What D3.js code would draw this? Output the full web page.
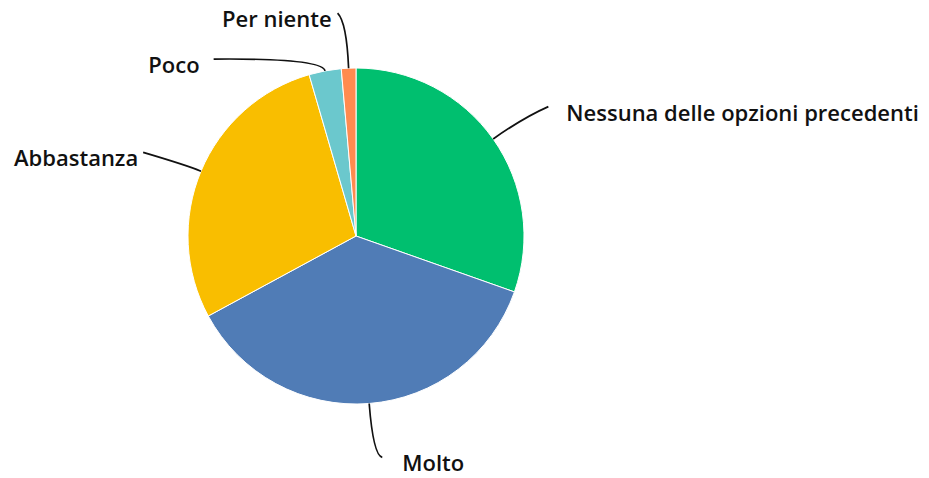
<!DOCTYPE html>
<html><head><meta charset="utf-8">
<script src="https://cdn.jsdelivr.net/npm/d3@7"></script>
<style>html,body{margin:0;padding:0;background:#fff;}svg{display:block;}</style>
</head><body>
<svg id="chart" width="929" height="478"></svg>
<script>
const categories = ["Nessuna delle opzioni precedenti", "Molto", "Abbastanza", "Poco", "Per niente"];
const values = [30.4, 36.7, 28.4, 3.1, 1.4];
const colors = ["#00BF6F", "#507CB6", "#F9BE00", "#6BC8CD", "#FF8B4F"];

// leader-line layout: control radius, end offset from control point, label side
const leaderLayout = [
  {ctrlR: 205, dx: 25, dy: -11, side: "right", gap: 18},
  {ctrlR: 220, dx: 9, dy: 2, side: "right", gap: 20},
  {ctrlR: 183, dx: -44, dy: -13, side: "left", gap: 5},
  {ctrlR: 181, dx: -109, dy: 1, side: "left", gap: 14},
  {ctrlR: 214, dx: -9, dy: -9, side: "left", gap: 6}
];

const svg = d3.select("#chart");
const cx = 356, cy = 236, R = 168;
const g = svg.append("g").attr("transform", `translate(${cx},${cy})`);

const data = categories.map((c, i) => ({name: c, value: values[i], color: colors[i], layout: leaderLayout[i]}));
const pie = d3.pie().sort(null).value(d => d.value);
const arcs = pie(data);
const arc = d3.arc().innerRadius(0).outerRadius(R);

g.selectAll("path.slice").data(arcs).enter().append("path")
  .attr("class", "slice")
  .attr("d", arc)
  .attr("fill", d => d.data.color)
  .attr("stroke", "#fff")
  .attr("stroke-width", 1);

function polar(a, r) { return [r * Math.sin(a), -r * Math.cos(a)]; }

arcs.forEach(d => {
  const mid = (d.startAngle + d.endAngle) / 2;
  const L = d.data.layout;
  const s = polar(mid, R);
  const c = polar(mid, L.ctrlR);
  const e = [c[0] + L.dx, c[1] + L.dy];
  const p = d3.path();
  p.moveTo(s[0], s[1]);
  p.quadraticCurveTo(c[0], c[1], e[0], e[1]);
  g.append("path").attr("d", p.toString())
    .attr("fill", "none").attr("stroke", "#111").attr("stroke-width", 1.7);
  g.append("text")
    .attr("x", L.side === "right" ? e[0] + L.gap : e[0] - L.gap)
    .attr("y", e[1] + 7)
    .attr("dy", "0.32em")
    .attr("text-anchor", L.side === "right" ? "start" : "end")
    .attr("font-family", "'Open Sans', sans-serif")
    .attr("font-weight", 600)
    .attr("font-size", 22)
    .attr("fill", "#111")
    .text(d.data.name);
});
</script>
</body></html>
